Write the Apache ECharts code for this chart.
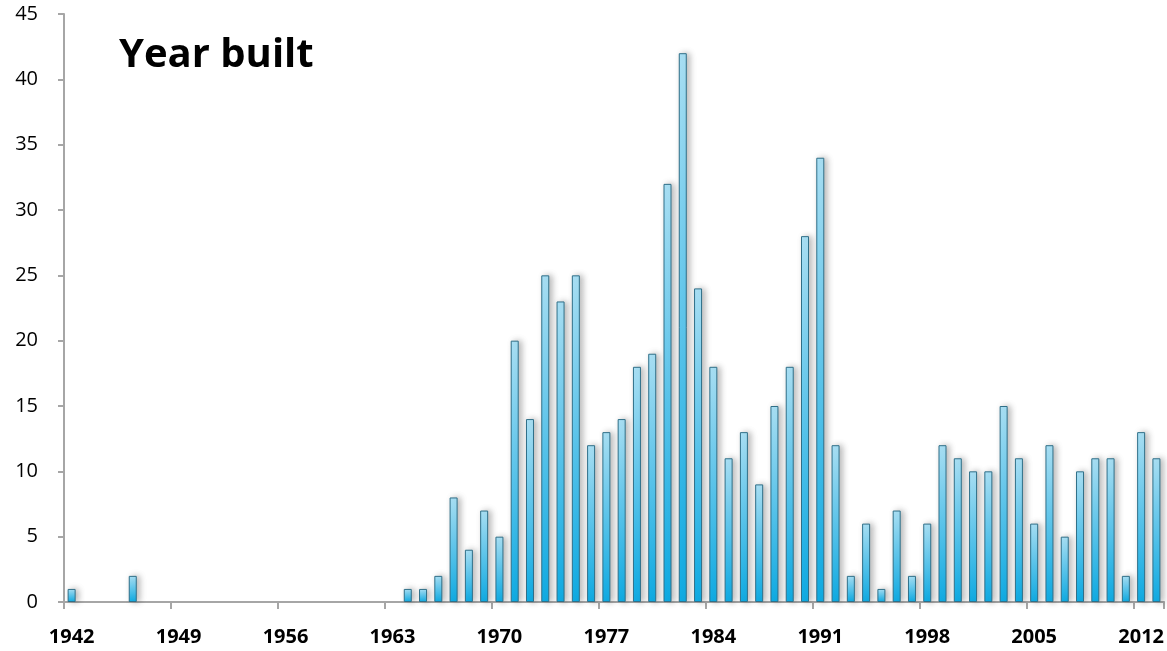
<!DOCTYPE html>
<html>
<head>
<meta charset="utf-8">
<script src="https://cdn.jsdelivr.net/npm/echarts@6/dist/echarts.min.js"></script>
<style>html,body{margin:0;padding:0;background:#fff}#c{width:1167px;height:651px}</style>
</head>
<body>
<div id="c"></div>
<script>
var years = [];
for (var y = 1942; y <= 2013; y++) years.push(String(y));
var counts = {
  1942: 1, 1946: 2,
  1964: 1, 1965: 1, 1966: 2, 1967: 8, 1968: 4, 1969: 7, 1970: 5,
  1971: 20, 1972: 14, 1973: 25, 1974: 23, 1975: 25, 1976: 12, 1977: 13,
  1978: 14, 1979: 18, 1980: 19, 1981: 32, 1982: 42, 1983: 24, 1984: 18,
  1985: 11, 1986: 13, 1987: 9, 1988: 15, 1989: 18, 1990: 28, 1991: 34,
  1992: 12, 1993: 2, 1994: 6, 1995: 1, 1996: 7, 1997: 2, 1998: 6,
  1999: 12, 2000: 11, 2001: 10, 2002: 10, 2003: 15, 2004: 11, 2005: 6,
  2006: 12, 2007: 5, 2008: 10, 2009: 11, 2010: 11, 2011: 2, 2012: 13, 2013: 11
};
var values = years.map(function (y) { return counts[y] !== undefined ? counts[y] : null; });
var yTicks = { min: 0, max: 45, interval: 5 };

var chart = echarts.init(document.getElementById('c'));
chart.setOption({
  animation: false,
  backgroundColor: '#fff',
  title: {
    text: 'Year built', left: 114, top: 31,
    textStyle: { fontFamily: 'Open Sans', fontWeight: 'bold', fontSize: 40, color: '#000' }
  },
  grid: { left: 64, right: 2, top: 14, bottom: 49, containLabel: false },
  xAxis: {
    type: 'category', data: years, boundaryGap: true,
    axisLine: { lineStyle: { color: '#a6a6a6', width: 2 } },
    axisTick: { show: true, interval: 6, length: 7, lineStyle: { color: '#a6a6a6', width: 2 } },
    axisLabel: { interval: 6, margin: 25, color: '#000', fontFamily: 'Open Sans', fontWeight: 'bold', fontSize: 20 }
  },
  yAxis: {
    type: 'value', min: yTicks.min, max: yTicks.max, interval: yTicks.interval,
    splitLine: { show: false },
    axisLine: { show: true, lineStyle: { color: '#a6a6a6', width: 2 } },
    axisTick: { show: true, length: 6, lineStyle: { color: '#a6a6a6', width: 2 } },
    axisLabel: { margin: 26, color: '#000', fontFamily: 'Open Sans', fontSize: 20 }
  },
  series: [{
    type: 'bar', data: values, barWidth: 8,
    itemStyle: {
      color: new echarts.graphic.LinearGradient(0, 0, 0, 1, [
        { offset: 0, color: '#aee6fb' },
        { offset: 1, color: '#0fb0ea' }
      ]),
      borderColor: '#2f6f88', borderWidth: 1,
      shadowColor: 'rgba(0,0,0,0.28)', shadowBlur: 6, shadowOffsetX: 3, shadowOffsetY: 0
    }
  }]
});
</script>
</body>
</html>
